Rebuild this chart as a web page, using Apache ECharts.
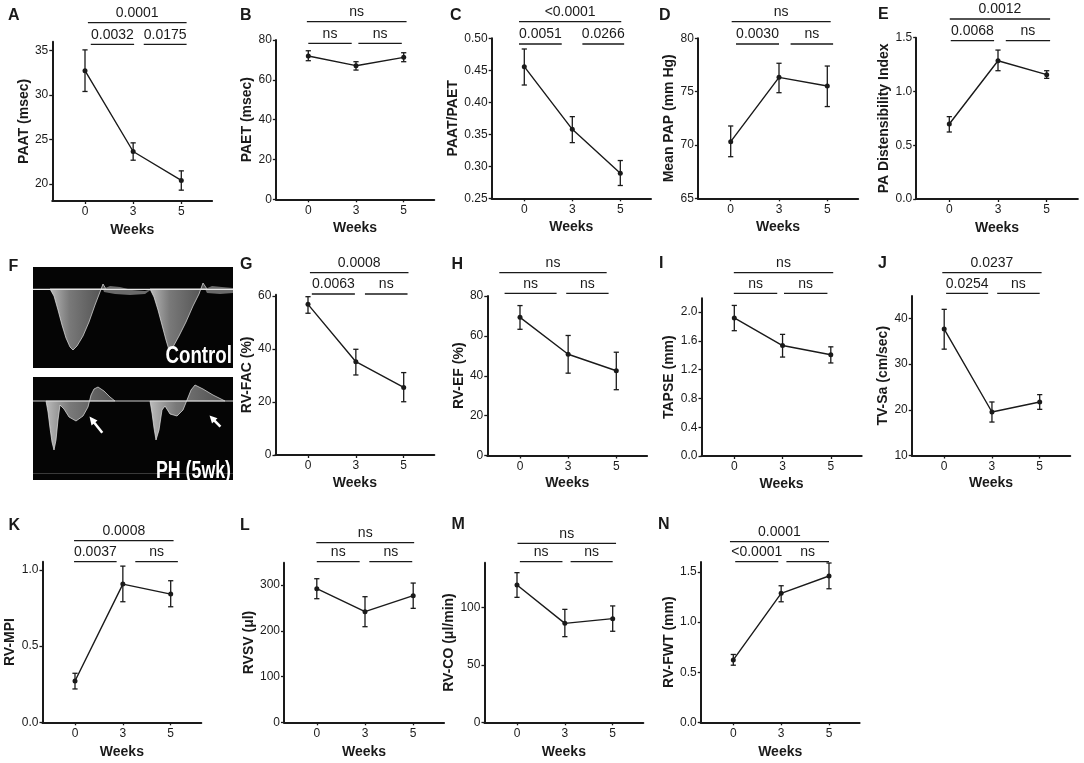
<!DOCTYPE html>
<html><head><meta charset="utf-8">
<script src="https://cdn.jsdelivr.net/npm/echarts@6.0.0/dist/echarts.min.js"></script>
<style>html,body{margin:0;padding:0;background:#fff}#c{width:1084px;height:763px}</style>
</head><body><div id="c"></div>
<script>
// ---------- data ----------
const weeks = ['0', '3', '5'];
const weekIdx = [0, 1, 2];

const paatMean = [32.74, 23.65, 20.4],  paatLow = [30.4, 22.67, 19.3],  paatHigh = [35.08, 24.62, 21.47];
const paetMean = [71.97, 67.1, 71.3],   paetLow = [69.6, 64.9, 69.1],   paetHigh = [74.6, 69.1, 73.6];
const ratioMean = [0.4557, 0.3578, 0.289], ratioLow = [0.427, 0.337, 0.27], ratioHigh = [0.4833, 0.3776, 0.309];
const papMean = [70.31, 76.34, 75.53],  papLow = [68.9, 74.9, 73.6],    papHigh = [71.78, 77.66, 77.4];
const distMean = [0.697, 1.286, 1.156], distLow = [0.623, 1.193, 1.122], distHigh = [0.766, 1.385, 1.193];
const facMean = [56.86, 35.2, 25.5],    facLow = [53.5, 30.2, 20.1],    facHigh = [59.75, 39.9, 31.1];
const efMean = [69.3, 50.8, 42.5],      efLow = [63.3, 41.3, 33.0],     efHigh = [75.2, 60.2, 51.8];
const tapseMean = [1.918, 1.534, 1.406], tapseLow = [1.74, 1.374, 1.292], tapseHigh = [2.091, 1.689, 1.516];
const tvsaMean = [37.66, 19.52, 21.71], tvsaLow = [33.27, 17.32, 20.1], tvsaHigh = [41.98, 21.71, 23.32];
const mpiMean = [0.271, 0.908, 0.842],  mpiLow = [0.219, 0.792, 0.759], mpiHigh = [0.322, 1.026, 0.930];
const svMean = [292, 241.8, 276.8],     svLow = [270.2, 209, 249.1],    svHigh = [313.9, 274.6, 304.4];
const coMean = [119.8, 86.3, 90.4],     coLow = [109, 74.7, 79.4],      coHigh = [130.5, 98.5, 101.5];
const fwtMean = [0.623, 1.287, 1.46],   fwtLow = [0.57, 1.203, 1.333],  fwtHigh = [0.677, 1.363, 1.59];

const paatTicks = [20, 25, 30, 35];
const paetTicks = [0, 20, 40, 60, 80];
const ratioTicks = [0.25, 0.30, 0.35, 0.40, 0.45, 0.50];
const papTicks = [65, 70, 75, 80];
const distTicks = [0, 0.5, 1.0, 1.5];
const facTicks = [0, 20, 40, 60];
const efTicks = [0, 20, 40, 60, 80];
const tapseTicks = [0, 0.4, 0.8, 1.2, 1.6, 2.0];
const tvsaTicks = [10, 20, 30, 40];
const mpiTicks = [0, 0.5, 1.0];
const svTicks = [0, 100, 200, 300];
const coTicks = [0, 50, 100];
const fwtTicks = [0, 0.5, 1.0, 1.5];

// p-value labels: [0 vs 5, 0 vs 3, 3 vs 5]
const paatP = ['0.0001', '0.0032', '0.0175'];
const paetP = ['ns', 'ns', 'ns'];
const ratioP = ['<0.0001', '0.0051', '0.0266'];
const papP = ['ns', '0.0030', 'ns'];
const distP = ['0.0012', '0.0068', 'ns'];
const facP = ['0.0008', '0.0063', 'ns'];
const efP = ['ns', 'ns', 'ns'];
const tapseP = ['ns', 'ns', 'ns'];
const tvsaP = ['0.0237', '0.0254', 'ns'];
const mpiP = ['0.0008', '0.0037', 'ns'];
const svP = ['ns', 'ns', 'ns'];
const coP = ['ns', 'ns', 'ns'];
const fwtP = ['0.0001', '<0.0001', 'ns'];

// ---------- layout ----------
const INK = '#1a1a1a';
const FONT = '"Liberation Sans", Arial, Helvetica, sans-serif';
const XMIN = -0.68, XMAX = 2.64;

const panels = [
  {L:'A', lx:8, ly:15.5, name:'PAAT (msec)', m:paatMean, lo:paatLow, hi:paatHigh, t:paatTicks, d:0, p:paatP, ymin:18.08, ymax:36.0, x0:85, sp:48.15, top:41.7, bot:201, ng:20, wg:22, brY:[22.7,44.3], spans:[[0.06,2.11],[0.12,1.02],[1.22,2.11]]},
  {L:'B', lx:240, ly:15.5, name:'PAET (msec)', m:paetMean, lo:paetLow, hi:paetHigh, t:paetTicks, d:0, p:paetP, ymin:0, ymax:80, x0:308.3, sp:47.7, top:40, bot:199.3, ng:21, wg:22, brY:[21.7,43.3], spans:[[-0.03,2.06],[0,0.91],[1.05,1.96]]},
  {L:'C', lx:450, ly:15.5, name:'PAAT/PAET', m:ratioMean, lo:ratioLow, hi:ratioHigh, t:ratioTicks, d:2, p:ratioP, ymin:0.25, ymax:0.50, x0:524.3, sp:48, top:38.3, bot:198.3, ng:27, wg:22, brY:[21.7,44], spans:[[-0.11,2.02],[-0.11,0.78],[1.21,2.08]]},
  {L:'D', lx:659, ly:15.5, name:'Mean PAP (mm Hg)', m:papMean, lo:papLow, hi:papHigh, t:papTicks, d:0, p:papP, ymin:65, ymax:80, x0:730.7, sp:48.3, top:38.3, bot:198.3, ng:19, wg:22, brY:[21.7,44], spans:[[0.02,2.07],[0.11,1.0],[1.24,2.12]]},
  {L:'E', lx:878, ly:14.5, name:'PA Distensibility Index', m:distMean, lo:distLow, hi:distHigh, t:distTicks, d:1, p:distP, ymin:0, ymax:1.5, x0:949.3, sp:48.7, top:37.7, bot:199, ng:24, wg:22, brY:[19,40.7], spans:[[0.01,2.07],[0.03,0.92],[1.16,2.07]]},
  {L:'G', lx:240, ly:265, name:'RV-FAC (%)', m:facMean, lo:facLow, hi:facHigh, t:facTicks, d:0, p:facP, ymin:0, ymax:60.5, x0:308, sp:47.85, top:294.7, bot:455, ng:21, wg:21, brY:[272.7,294], spans:[[0.04,2.10],[0.08,0.98],[1.19,2.08]]},
  {L:'H', lx:451.5, ly:265, name:'RV-EF (%)', m:efMean, lo:efLow, hi:efHigh, t:efTicks, d:0, p:efP, ymin:0, ymax:80, x0:520, sp:48.15, top:296, bot:455.5, ng:21, wg:21, brY:[272.7,293.3], spans:[[-0.43,1.80],[-0.32,0.76],[0.96,1.84]]},
  {L:'I', lx:659, ly:264, name:'TAPSE (mm)', m:tapseMean, lo:tapseLow, hi:tapseHigh, t:tapseTicks, d:1, p:tapseP, ymin:0, ymax:2.19, x0:734.3, sp:48.25, top:298.3, bot:456, ng:25, wg:21, brY:[272.7,293.3], spans:[[-0.01,2.05],[-0.01,0.89],[1.03,1.93]]},
  {L:'J', lx:878, ly:264, name:'TV-Sa (cm/sec)', m:tvsaMean, lo:tvsaLow, hi:tvsaHigh, t:tvsaTicks, d:0, p:tvsaP, ymin:10, ymax:44.9, x0:944.2, sp:47.75, top:296, bot:455.5, ng:21, wg:21, brY:[272.7,293.3], spans:[[-0.04,2.04],[0.04,0.92],[1.11,2.0]]},
  {L:'K', lx:8.5, ly:525.5, name:'RV-MPI', m:mpiMean, lo:mpiLow, hi:mpiHigh, t:mpiTicks, d:1, p:mpiP, ymin:0, ymax:1.055, x0:75, sp:47.85, top:561.7, bot:722.3, ng:25, wg:23, brY:[540.7,561.7], spans:[[-0.02,2.06],[-0.02,0.87],[1.26,2.15]]},
  {L:'L', lx:240, ly:526, name:'RVSV (μl)', m:svMean, lo:svLow, hi:svHigh, t:svTicks, d:0, p:svP, ymin:0, ymax:348.9, x0:316.8, sp:48.2, top:562.7, bot:722.3, ng:26, wg:23, brY:[542.7,561.7], spans:[[-0.01,2.02],[0,0.89],[1.09,1.98]]},
  {L:'M', lx:451.5, ly:525, name:'RV-CO (μl/min)', m:coMean, lo:coLow, hi:coHigh, t:coTicks, d:0, p:coP, ymin:0, ymax:139.2, x0:517, sp:47.85, top:562.7, bot:722.3, ng:27, wg:23, brY:[543.3,561.7], spans:[[0.01,2.07],[0.06,0.95],[1.12,2.0]]},
  {L:'N', lx:658, ly:524.5, name:'RV-FWT (mm)', m:fwtMean, lo:fwtLow, hi:fwtHigh, t:fwtTicks, d:1, p:fwtP, ymin:0, ymax:1.6, x0:733.3, sp:47.85, top:562, bot:722.3, ng:25, wg:23, brY:[541.7,561.7], spans:[[-0.07,2.0],[0.04,0.94],[1.11,2.0]]}
];

function errRender(params, api) {
  const x = api.value(0);
  const a = api.coord([x, api.value(1)]);
  const b = api.coord([x, api.value(2)]);
  const w = 2.6;
  const st = {stroke: INK, lineWidth: 1.3};
  return {type: 'group', children: [
    {type: 'line', shape: {x1: a[0], y1: a[1], x2: b[0], y2: b[1]}, style: st},
    {type: 'line', shape: {x1: a[0] - w, y1: a[1], x2: a[0] + w, y2: a[1]}, style: st},
    {type: 'line', shape: {x1: b[0] - w, y1: b[1], x2: b[0] + w, y2: b[1]}, style: st}
  ]};
}

function bracketRender(p) {
  return function (params, api) {
    const j = params.dataIndex;
    const a = api.coord([api.value(0), p.ymin])[0];
    const b = api.coord([api.value(1), p.ymin])[0];
    const y = p.brY[j === 0 ? 0 : 1];
    return {type: 'group', children: [
      {type: 'line', shape: {x1: a, y1: y, x2: b, y2: y}, style: {stroke: INK, lineWidth: 1.3}},
      {type: 'text', style: {text: p.p[j], x: (a + b) / 2, y: y - 9.5, textAlign: 'center', textVerticalAlign: 'middle',
        font: '14px ' + FONT, fill: INK}}
    ]};
  };
}

const grids = [], xAxes = [], yAxes = [], series = [], graphics = [];
panels.forEach((p, i) => {
  grids.push({left: p.x0 + XMIN * p.sp, top: p.top, width: (XMAX - XMIN) * p.sp, height: p.bot - p.top, containLabel: false});
  xAxes.push({
    gridIndex: i, type: 'value', min: XMIN, max: XMAX,
    name: 'Weeks', nameLocation: 'middle', nameGap: p.wg,
    nameTextStyle: {fontFamily: FONT, fontWeight: 'bold', fontSize: 14, color: INK},
    axisLine: {onZero: false, lineStyle: {color: INK, width: 2}},
    axisTick: {show: true, customValues: weekIdx, length: 3, lineStyle: {color: INK, width: 1.3}},
    axisLabel: {customValues: weekIdx, formatter: v => weeks[Math.round(v)], margin: 5, fontFamily: FONT, fontSize: 12, color: INK},
    splitLine: {show: false}
  });
  yAxes.push({
    gridIndex: i, type: 'value', min: p.ymin, max: p.ymax,
    name: p.name, nameLocation: 'middle', nameGap: p.ng,
    nameTextStyle: {fontFamily: FONT, fontWeight: 'bold', fontSize: 14, color: INK},
    axisLine: {show: true, onZero: false, lineStyle: {color: INK, width: 2}},
    axisTick: {show: true, customValues: p.t, length: 3, lineStyle: {color: INK, width: 1.3}},
    axisLabel: {customValues: p.t, formatter: v => Number(v).toFixed(p.d), margin: 4, fontFamily: FONT, fontSize: 12, color: INK},
    splitLine: {show: false}
  });
  series.push({type: 'custom', xAxisIndex: i, yAxisIndex: i, z: 2, silent: true,
    encode: {x: 0, y: [1, 2]},
    data: weekIdx.map((k, j) => [k, p.lo[j], p.hi[j]]), renderItem: errRender});
  series.push({type: 'line', xAxisIndex: i, yAxisIndex: i, z: 3, silent: true,
    data: weekIdx.map((k, j) => [k, p.m[j]]), symbol: 'circle', symbolSize: 5, showSymbol: true,
    lineStyle: {color: INK, width: 1.4}, itemStyle: {color: INK}});
  series.push({type: 'custom', xAxisIndex: i, yAxisIndex: i, clip: false, z: 4, silent: true,
    encode: {x: [0, 1], y: 2},
    data: p.spans.map(s => [s[0], s[1], p.ymin]), renderItem: bracketRender(p)});
  graphics.push({type: 'text', x: p.lx, y: p.ly, style: {text: p.L, font: 'bold 16px ' + FONT, fill: INK, textAlign: 'left', textVerticalAlign: 'middle'}});
});

// ---------- panel F (ultrasound illustration) ----------
graphics.push({type: 'text', x: 8.5, y: 266.5, style: {text: 'F', font: 'bold 16px ' + FONT, fill: INK, textAlign: 'left', textVerticalAlign: 'middle'}});
function waveGrad() {
  return new echarts.graphic.LinearGradient(0, 0, 1, 0, [
    {offset: 0, color: 'rgba(220,220,220,0.85)'},
    {offset: 0.35, color: 'rgba(160,160,160,0.75)'},
    {offset: 1, color: 'rgba(120,120,120,0.65)'}
  ]);
}
const waveStroke = 'rgba(235,235,235,0.85)';
graphics.push(
  {type: 'rect', shape: {x: 33, y: 267, width: 200, height: 101}, style: {fill: '#050505'}},
  {type: 'polygon', shape: {points: [[50,289],[54,296],[58,310],[62,325],[66,338],[70,347],[73,350],[77,346],[83,336],[89,322],[95,305],[100,292],[103,284],[106,289]]}, style: {fill: waveGrad(), stroke: waveStroke, lineWidth: 0.8}},
  {type: 'polygon', shape: {points: [[103,289],[110,286],[120,287],[132,290],[145,291],[152,289],[145,294],[130,295],[115,294],[104,292]]}, style: {fill: 'rgba(150,150,150,0.7)'}},
  {type: 'polygon', shape: {points: [[150,289],[154,297],[158,310],[162,325],[166,340],[169,350],[173,347],[179,336],[186,322],[193,306],[199,294],[203,283],[207,289]]}, style: {fill: waveGrad(), stroke: waveStroke, lineWidth: 0.8}},
  {type: 'polygon', shape: {points: [[205,289],[212,286],[222,287],[233,288],[233,293],[220,294],[207,293]]}, style: {fill: 'rgba(150,150,150,0.7)'}},
  {type: 'line', shape: {x1: 33, y1: 289.3, x2: 233, y2: 289.3}, style: {stroke: '#e6e6e6', lineWidth: 1.2}},
  {type: 'text', x: 232, y: 368, scaleX: 0.78, style: {text: 'Control', font: 'bold 24px ' + FONT, fill: '#ffffff', textAlign: 'right', textVerticalAlign: 'bottom'}},

  {type: 'rect', shape: {x: 33, y: 377, width: 200, height: 103}, style: {fill: '#050505'}},
  {type: 'polygon', shape: {points: [[46,401],[48,412],[50,428],[52,442],[54,450],[56,440],[58,420],[60,405],[64,409],[69,417],[76,421],[83,416],[88,407],[91,395],[94,389],[98,387],[104,391],[110,397],[115,401]]}, style: {fill: waveGrad(), stroke: waveStroke, lineWidth: 0.8}},
  {type: 'polygon', shape: {points: [[150,401],[152,413],[154,428],[156,440],[159,430],[162,410],[165,406],[170,414],[177,416],[183,410],[187,400],[191,390],[195,385],[203,389],[213,395],[225,401]]}, style: {fill: waveGrad(), stroke: waveStroke, lineWidth: 0.8}},
  {type: 'line', shape: {x1: 33, y1: 401, x2: 233, y2: 401}, style: {stroke: '#cfcfcf', lineWidth: 1.1}},
  {type: 'line', shape: {x1: 33, y1: 473.5, x2: 233, y2: 473.5}, style: {stroke: '#3a3a3a', lineWidth: 1}},
  {type: 'line', shape: {x1: 102.3, y1: 432.7, x2: 93.5, y2: 421.8}, style: {stroke: '#ffffff', lineWidth: 2.6}},
  {type: 'polygon', shape: {points: [[89.5,416.5],[97.5,420.5],[91.5,425.5]]}, style: {fill: '#ffffff'}},
  {type: 'line', shape: {x1: 220.4, y1: 426.7, x2: 213.5, y2: 419.6}, style: {stroke: '#ffffff', lineWidth: 2.6}},
  {type: 'polygon', shape: {points: [[209.5,415.5],[217.5,418.3],[212,423.5]]}, style: {fill: '#ffffff'}},
  {type: 'text', x: 231, y: 483, scaleX: 0.74, style: {text: 'PH (5wk)', font: 'bold 24px ' + FONT, fill: '#ffffff', textAlign: 'right', textVerticalAlign: 'bottom'}},
  {type: 'rect', shape: {x: 0, y: 480, width: 240, height: 10}, style: {fill: '#ffffff'}}
);

const chart = echarts.init(document.getElementById('c'), null, {renderer: 'canvas'});
chart.setOption({
  animation: false,
  backgroundColor: '#ffffff',
  textStyle: {fontFamily: FONT},
  grid: grids, xAxis: xAxes, yAxis: yAxes, series: series, graphic: graphics
});
</script></body></html>
